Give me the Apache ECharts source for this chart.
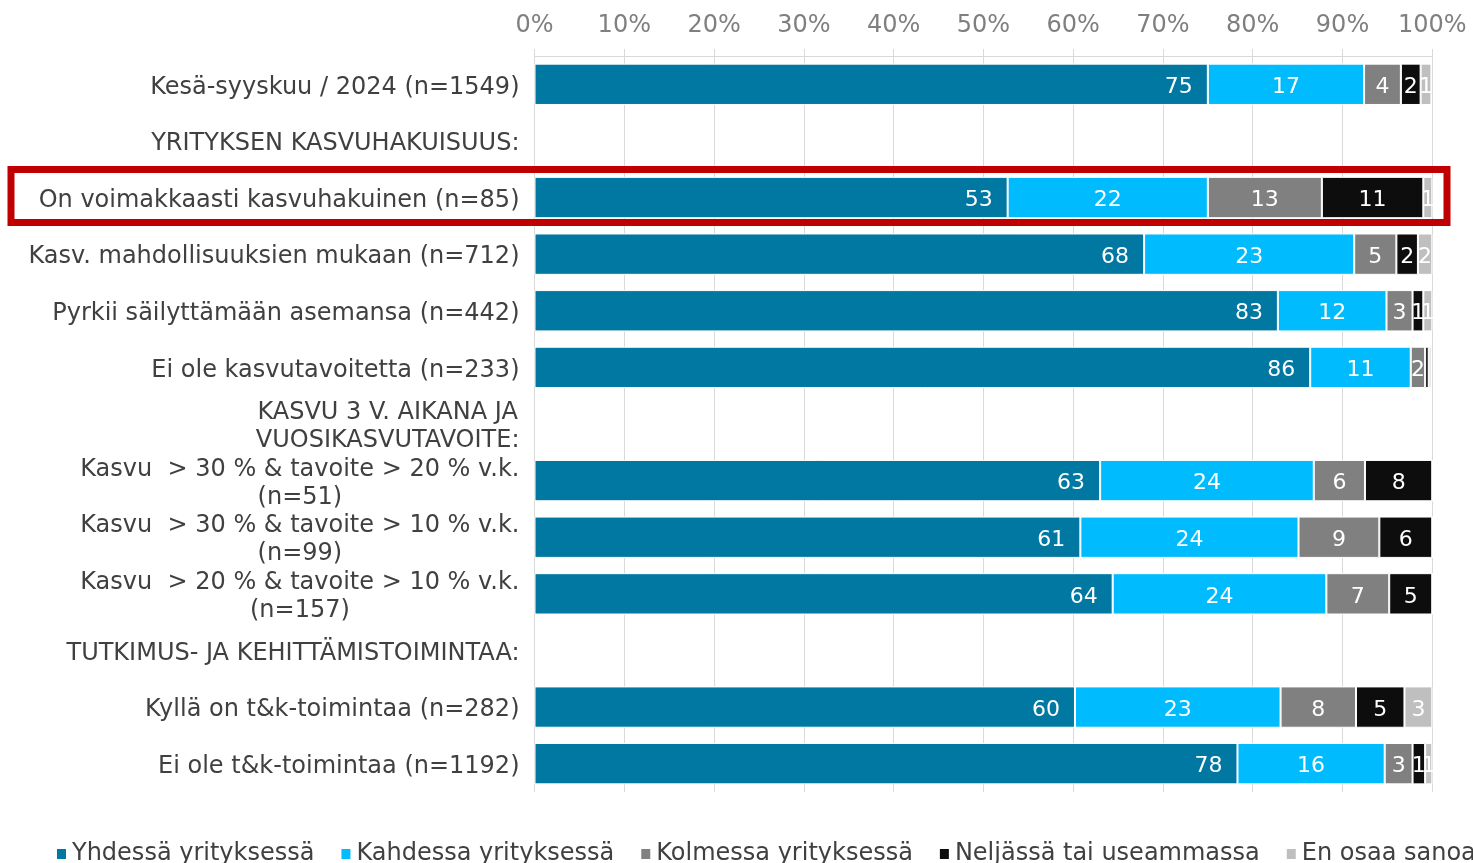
<!DOCTYPE html>
<html>
<head>
<meta charset="utf-8">
<script src="https://cdn.jsdelivr.net/npm/echarts@6/dist/echarts.min.js"></script>
<style>
  html, body { margin: 0; padding: 0; background: #fff; }
  #chart { width: 1473px; height: 863px; }
</style>
</head>
<body>
<div id="chart"></div>
<script>
const categories = [
  'Kesä-syyskuu / 2024 (n=1549)',
  'YRITYKSEN KASVUHAKUISUUS:',
  'On voimakkaasti kasvuhakuinen (n=85)',
  'Kasv. mahdollisuuksien mukaan (n=712)',
  'Pyrkii säilyttämään asemansa (n=442)',
  'Ei ole kasvutavoitetta (n=233)',
  'KASVU 3 V. AIKANA JA\nVUOSIKASVUTAVOITE:',
  'Kasvu  > 30 % & tavoite > 20 % v.k.\n(n=51)',
  'Kasvu  > 30 % & tavoite > 10 % v.k.\n(n=99)',
  'Kasvu  > 20 % & tavoite > 10 % v.k.\n(n=157)',
  'TUTKIMUS- JA KEHITTÄMISTOIMINTAA:',
  'Kyllä on t&k-toimintaa (n=282)',
  'Ei ole t&k-toimintaa (n=1192)'
]
const seriesNames = ['Yhdessä yrityksessä', 'Kahdessa yrityksessä', 'Kolmessa yrityksessä', 'Neljässä tai useammassa', 'En osaa sanoa']
const yhdessa  = [75.0, null, 52.7, 67.9, 82.8, 86.4, null, 63.0, 60.8, 64.4, null, 60.2, 78.3]
const kahdessa = [17.4, null, 22.3, 23.4, 12.1, 11.2, null, 23.8, 24.3, 23.8, null, 22.9, 16.4]
const kolmessa = [4.1, null, 12.7, 4.7, 2.9, 1.6, null, 5.7, 9.0, 7.0, null, 8.4, 3.1]
const neljassa = [2.2, null, 11.3, 2.4, 1.2, 0.4, null, 7.5, 5.9, 4.8, null, 5.4, 1.4]
const eos      = [1.2, null, 1.0, 1.6, 1.0, 0.3, null, 0, 0, 0, null, 3.1, 0.8]
const xTicks = { min: 0, max: 100, interval: 10 }
const highlightRow = 2

const colors = ['#0078A2', '#00BCFF', '#808080', '#0D0D0D', '#BFBFBF']
const font = '"DejaVu Sans", Verdana, sans-serif'

const chart = echarts.init(document.getElementById('chart'))

function makeSeries(name, data, i) {
  return {
    name: name,
    type: 'bar',
    stack: 'total',
    barWidth: '73%',
    data: data,
    itemStyle: { color: colors[i], borderColor: '#ffffff', borderWidth: 1 },
    label: {
      show: true,
      position: i === 0 ? 'insideRight' : 'inside',
      distance: i === 0 ? 15 : 5,
      offset: [0, 3],
      color: '#ffffff',
      fontFamily: font,
      fontSize: 22,
      formatter: p => (p.value == null || p.value < 0.5) ? '' : String(Math.round(p.value))
    },
    emphasis: { disabled: true }
  }
}

const data = [yhdessa, kahdessa, kolmessa, neljassa, eos]

chart.setOption({
  animation: false,
  grid: { left: 534.5, right: 40.7, top: 56, bottom: 71, containLabel: false },
  legend: {
    left: 55,
    top: 842,
    width: 3000,
    padding: 0,
    itemWidth: 11,
    itemHeight: 12,
    itemGap: 25,
    icon: 'rect',
    textStyle: { fontFamily: font, fontSize: 24, color: '#404040' },
    data: seriesNames
  },
  xAxis: {
    type: 'value',
    position: 'top',
    min: xTicks.min,
    max: xTicks.max,
    interval: xTicks.interval,
    axisLine: { show: true, lineStyle: { color: '#d9d9d9', width: 1 } },
    axisTick: { show: true, length: 7, lineStyle: { color: '#d9d9d9' } },
    splitLine: { show: true, lineStyle: { color: '#d9d9d9', width: 1 } },
    axisLabel: {
      formatter: '{value}%',
      margin: 18,
      color: '#7f7f7f',
      fontFamily: font,
      fontSize: 24
    }
  },
  yAxis: {
    type: 'category',
    inverse: true,
    data: categories,
    axisLine: { show: false },
    axisTick: { show: false },
    axisLabel: {
      interval: 0,
      margin: 15,
      padding: [6, 0, 0, 0],
      formatter: v => v.split('\n').map(l => '{c|' + l + '}').join('\n'),
      rich: {
        c: { align: 'center', color: '#404040', fontFamily: font, fontSize: 24, lineHeight: 28 }
      }
    }
  },
  series: seriesNames.map((n, i) => makeSeries(n, data[i], i))
})

// red highlight box around the strongly growth-seeking row
const cy = chart.convertToPixel({ yAxisIndex: 0 }, highlightRow)
chart.setOption({
  graphic: [{
    type: 'rect',
    shape: { x: 11, y: cy - 28, width: 1436, height: 53 },
    style: { fill: 'none', stroke: '#C00000', lineWidth: 7 },
    z: 100
  }]
})
</script>
</body>
</html>
